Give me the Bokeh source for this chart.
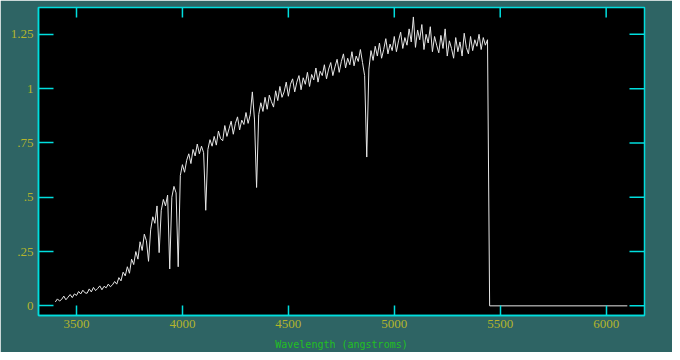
import math
from bokeh.plotting import figure
from bokeh.models import Range1d, FixedTicker
from bokeh.embed import file_html
from bokeh.resources import INLINE

# ---- data ----
wave_start = 3400
wave_step = 10
flux_main = [
    0.018, 0.032, 0.022, 0.030, 0.045, 0.028, 0.040, 0.052, 0.038, 0.055,
    0.048, 0.066, 0.055, 0.072, 0.060, 0.058, 0.078, 0.064, 0.085, 0.070,
    0.080, 0.092, 0.074, 0.090, 0.083, 0.100, 0.088, 0.097, 0.112, 0.100,
    0.130, 0.115, 0.155, 0.138, 0.180, 0.150, 0.215, 0.190, 0.250, 0.215,
    0.295, 0.255, 0.330, 0.300, 0.205, 0.350, 0.410, 0.380, 0.460, 0.245,
    0.440, 0.490, 0.460, 0.510, 0.170, 0.500, 0.550, 0.520, 0.180, 0.600,
    0.650, 0.615, 0.670, 0.700, 0.655, 0.720, 0.690, 0.745, 0.700, 0.735,
    0.705, 0.440, 0.720, 0.765, 0.735, 0.780, 0.740, 0.805, 0.770, 0.760,
    0.830, 0.780, 0.815, 0.850, 0.790, 0.840, 0.870, 0.810, 0.855, 0.835,
    0.890, 0.840, 0.880, 0.985, 0.860, 0.545, 0.880, 0.935, 0.895, 0.960,
    0.905, 0.970, 0.940, 0.915, 0.990, 0.945, 1.010, 0.960, 0.985, 1.030,
    0.965, 1.020, 1.045, 0.985, 1.030, 1.060, 0.995, 1.050, 1.020, 1.075,
    1.010, 1.065, 1.040, 1.095, 1.030, 1.080, 1.060, 1.110, 1.045, 1.090,
    1.120, 1.060, 1.100, 1.135, 1.075, 1.125, 1.160, 1.095, 1.140, 1.110,
    1.170, 1.105, 1.150, 1.125, 1.180, 1.120, 1.060, 0.685, 1.090, 1.175,
    1.130, 1.195, 1.150, 1.210, 1.140, 1.180, 1.230, 1.160, 1.205, 1.175,
    1.240, 1.170, 1.220, 1.260, 1.185, 1.235, 1.200, 1.275, 1.215, 1.330,
    1.190, 1.270, 1.225, 1.295, 1.180, 1.250, 1.210, 1.285, 1.170, 1.240,
    1.200, 1.165, 1.245, 1.185, 1.275, 1.150, 1.220, 1.185, 1.140, 1.235,
    1.170, 1.215, 1.150, 1.255, 1.190, 1.160, 1.240, 1.175, 1.225, 1.195,
    1.250, 1.180, 1.235, 1.200, 1.225,
]
wave_tail = [5450, 6100]
flux_tail = [0.0, 0.0]

wave = [wave_start + i * wave_step for i in range(len(flux_main))] + wave_tail
flux = flux_main + flux_tail

x_ticks = [3500, 4000, 4500, 5000, 5500, 6000]
y_ticks = [0, 0.25, 0.5, 0.75, 1, 1.25]
y_tick_labels = ["0", ".25", ".5", ".75", "1", "1.25"]
x_label = "Wavelength (angstroms)"

# ---- styling ----
TEAL = "#2e6464"
CYAN = "#00dede"
TICK_TXT = "#b4b42c"
LABEL_TXT = "#22c022"

x_range = Range1d(3320.6, 6181.0)
y_range = Range1d(-0.0444, 1.3735)

p = figure(width=672, height=352, output_backend="svg", toolbar_location=None,
           x_range=x_range, y_range=y_range,
           min_border_left=38, min_border_right=28, min_border_top=7,
           min_border_bottom=35)
p.background_fill_color = "black"
p.border_fill_color = TEAL
p.outline_line_color = CYAN
p.outline_line_width = 1.5
p.grid.visible = False

p.line(wave, flux, line_color="#e6e6e6", line_width=1)

# mirrored ticks on the top and right frame edges (half of each dash is clipped)
p.scatter(x=x_ticks, y=[y_range.end] * len(x_ticks), marker="dash", size=20,
          angle=math.pi / 2, line_color=CYAN, line_width=1.5)
p.scatter(x=[x_range.end] * len(y_ticks), y=y_ticks, marker="dash", size=30,
          line_color=CYAN, line_width=1.5)

def style(ax, ticks, tick_len):
    ax.ticker = FixedTicker(ticks=ticks)
    ax.axis_line_color = CYAN
    ax.axis_line_width = 1.5
    ax.major_tick_line_color = CYAN
    ax.major_tick_line_width = 1.5
    ax.major_tick_in = tick_len
    ax.major_tick_out = 0
    ax.minor_tick_line_color = None
    ax.major_label_text_color = TICK_TXT
    ax.major_label_text_font = "Liberation Sans Narrow"
    ax.major_label_text_font_size = "13px"

xb = p.xaxis[0]
style(xb, x_ticks, 10)
xb.major_label_standoff = 4
xb.axis_label = x_label
xb.axis_label_text_color = LABEL_TXT
xb.axis_label_text_font = "DejaVu Sans Mono"
xb.axis_label_text_font_size = "10px"
xb.axis_label_text_font_style = "normal"
xb.axis_label_standoff = 8

yl = p.yaxis[0]
style(yl, y_ticks, 15)
yl.major_label_standoff = 5
yl.major_label_orientation = "horizontal"
yl.major_label_overrides = {t: s for t, s in zip(y_ticks, y_tick_labels)}

open("out.html", "w").write(file_html(p, INLINE))
